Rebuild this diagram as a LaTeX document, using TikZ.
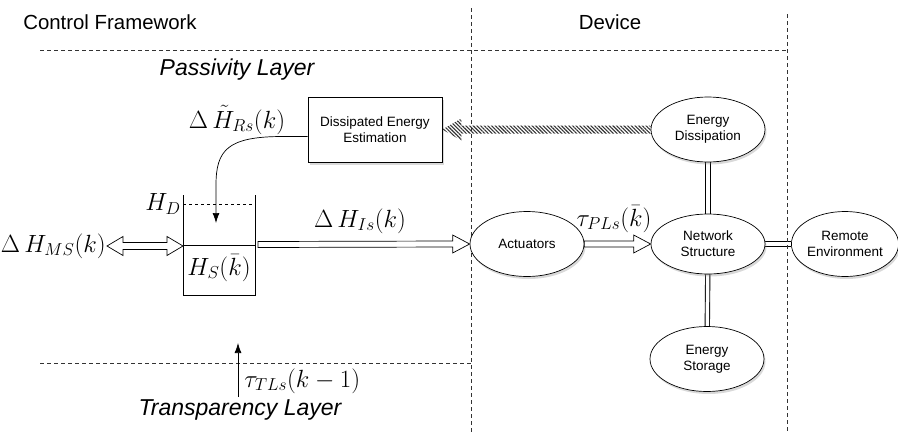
\documentclass[tikz,border=0pt]{standalone}
\usepackage{amsmath}
\usepackage{fontspec}
\setmainfont{Liberation Sans}
\usetikzlibrary{arrows.meta,shapes.geometric,shadows,patterns.meta,calc,backgrounds}
\tikzset{
  blob/.style={ellipse, draw, fill=white, minimum width=114pt, minimum height=65pt,
    inner sep=0pt, align=center, font=\fontsize{13.5}{16}\selectfont,
    drop shadow={opacity=0.3, shadow xshift=1.5pt, shadow yshift=-2.5pt}},
  block/.style={rectangle, draw, fill=white, minimum width=134pt, minimum height=65pt,
    align=center, font=\fontsize{13.5}{16}\selectfont,
    drop shadow={opacity=0.3, shadow xshift=1.5pt, shadow yshift=-2.5pt}},
  border/.style={dash pattern=on 4pt off 3pt, black!80, line width=0.5pt},
  link/.style={double, double distance=3.5pt, line width=0.9pt},
  lbl/.style={font=\fontsize{24.88}{28}\selectfont, inner sep=1pt},
  head/.style={font=\fontsize{20.4}{24}\selectfont},
  layer/.style={font=\fontsize{23}{26}\selectfont\itshape},
}
% hollow arrow #1 -> #2, left to right
\newcommand{\fatarrow}[2]{%
  \draw[fill=white] ($(#1)+(0,-3)$) -- ($(#2)+(-17,-3)$) -- ($(#2)+(-17,-9)$) -- (#2)
    -- ($(#2)+(-17,9)$) -- ($(#2)+(-17,3)$) -- ($(#1)+(0,3)$) -- cycle;}
\begin{document}
\begin{tikzpicture}[x=1pt,y=-1pt,line width=0.7pt]
\useasboundingbox (0,0) rectangle (898,432);
% frame
\draw[border] (40,50) -- (787,50);
\draw[border] (471,8) -- (471,432);
\draw[border] (787,14) -- (787,432);
\draw[border] (40,363) -- (471,363);
\node[head] (ctrl) at (110,22) {Control Framework};
\node[head] (dev) at (610,22) {Device};
\node[layer] (pass) at (237,70) {Passivity Layer};
\node[layer] (transp) at (240,410) {Transparency Layer};

% blocks
\node[block] (estim) at (375,129.5) {Dissipated Energy\\Estimation};
\node[blob] (dissip) at (708,129.5) {Energy\\Dissipation};
\node[blob, minimum height=60pt] (netw) at (708,244) {Network\\Structure};
\node[blob] (actu) at (527,244) {Actuators};
\node[blob, minimum width=104pt] (remote) at (845,244) {Remote\\Environment};
\node[blob] (store) at (707,359) {Energy\\Storage};

\begin{scope}[on background layer]
  \draw[link] (dissip) -- (netw);
  \draw[link] (netw) -- (store);
  \draw[link] (netw) -- (remote);
\end{scope}

% dissipation feedback
\fill[pattern={Lines[angle=-45,distance=2.6pt,line width=1.1pt]}, pattern color=black!80]
  ($(dissip.west)+(0,-4)$) -- ($(estim.east)+(19,-4)$) -- ($(estim.east)+(19,-11)$) -- (estim.east)
  -- ($(estim.east)+(19,11)$) -- ($(estim.east)+(19,4)$) -- ($(dissip.west)+(0,4)$) -- cycle;

% tank
\coordinate (tankL) at (183,246);
\coordinate (tankR) at (258,244.5);
\coordinate (drop) at (216,223);
\draw (183,195) -- (183,295) -- (255,295) -- (255,195);
\draw[dashed] (183,204) -- (255,204);
\draw (183,245) -- (255,245);
\node[lbl, anchor=east] (hd) at (182,204) {$H_{\scriptscriptstyle D}$};
\node[lbl] (hs) at (219,268) {$H_{\scriptscriptstyle S}(\bar{k})$};

\draw[-{Latex[length=10pt,width=7pt]}] ([yshift=-7pt]estim.west) -- ++(-25,0)
  .. controls +(-55,0) and (216,150) .. (216,185) -- (drop);
\node[lbl] (hrs) at (237,120) {$\Delta\,\tilde{H}_{\scriptscriptstyle Rs}(k)$};

\node[lbl, anchor=east] (hms) at (107,246) {$\Delta\,H_{\scriptscriptstyle MS}(k)$};
\draw[fill=white] (hms.east) -- ++(16,-9.5) -- ++(0,6) -- ($(tankL)+(-16,-3.5)$) -- ++(0,-6) -- (tankL)
  -- ++(-16,9.5) -- ++(0,-6) -- ($(hms.east)+(16,3.5)$) -- ++(0,6) -- cycle;

\fatarrow{tankR}{actu.west}
\node[lbl] (his) at (360,221) {$\Delta\,H_{\scriptscriptstyle Is}(k)$};
\fatarrow{actu.east}{netw.west}
\node[lbl] (tpl) at (614,219) {$\tau_{\scriptscriptstyle PLs}(\bar{k})$};

\coordinate (tlfoot) at (238,397);
\coordinate (tltip) at (238,343);
\draw[-{Latex[length=10pt,width=7pt]}] (tlfoot) -- (tltip);
\node[lbl, anchor=west] (ttl) at (243,381) {$\tau_{\scriptscriptstyle TLs}(k-1)$};
\end{tikzpicture}
\end{document}
